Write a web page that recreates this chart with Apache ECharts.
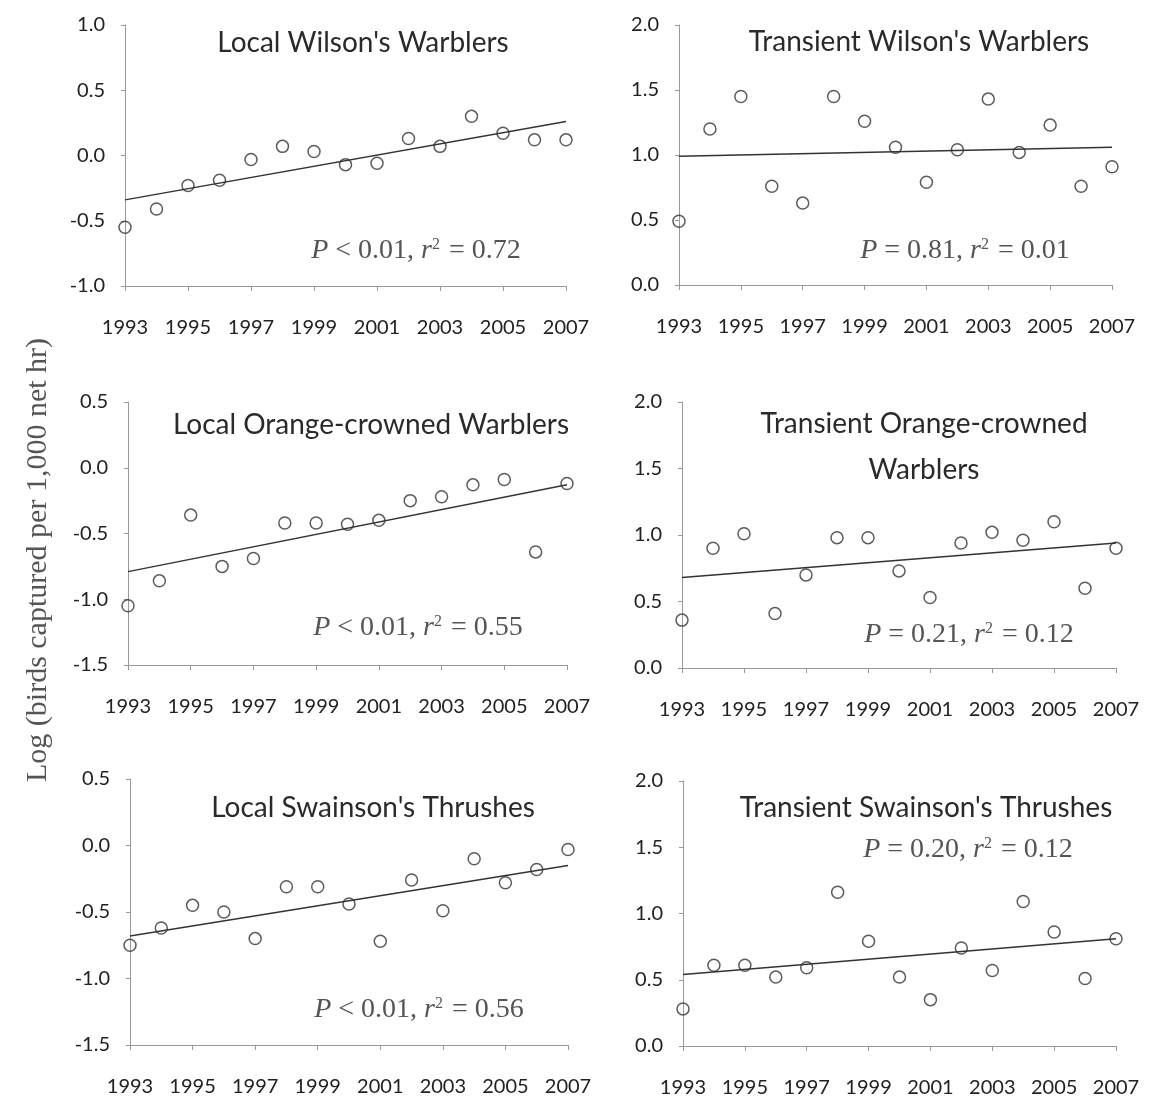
<!DOCTYPE html>
<html>
<head>
<meta charset="utf-8">
<script src="https://cdn.jsdelivr.net/npm/echarts@6/dist/echarts.min.js"></script>
<style>
  html, body { margin: 0; padding: 0; background: #fff; }
  #main { width: 1156px; height: 1100px; }
</style>
</head>
<body>
<div id="main"></div>
<script>
// years on the x axis
var years = [1993, 1994, 1995, 1996, 1997, 1998, 1999, 2000, 2001, 2002, 2003, 2004, 2005, 2006, 2007];

// log captures per panel
var localWilson = [-0.55, -0.41, -0.23, -0.19, -0.03, 0.07, 0.03, -0.07, -0.06, 0.13, 0.07, 0.30, 0.17, 0.12, 0.12];
var transWilson = [0.49, 1.20, 1.45, 0.76, 0.63, 1.45, 1.26, 1.06, 0.79, 1.04, 1.43, 1.02, 1.23, 0.76, 0.91];
var localOrange = [-1.05, -0.86, -0.36, -0.75, -0.69, -0.42, -0.42, -0.43, -0.40, -0.25, -0.22, -0.13, -0.09, -0.64, -0.12];
var transOrange = [0.36, 0.90, 1.01, 0.41, 0.70, 0.98, 0.98, 0.73, 0.53, 0.94, 1.02, 0.96, 1.10, 0.60, 0.90];
var localSwainson = [-0.75, -0.62, -0.45, -0.50, -0.70, -0.31, -0.31, -0.44, -0.72, -0.26, -0.49, -0.10, -0.28, -0.18, -0.03];
var transSwainson = [0.28, 0.61, 0.61, 0.52, 0.59, 1.16, 0.79, 0.52, 0.35, 0.74, 0.57, 1.09, 0.86, 0.51, 0.81];

// regression line ends (1993, 2007)
var trendLocalWilson = [-0.34, 0.26];
var trendTransWilson = [0.99, 1.06];
var trendLocalOrange = [-0.79, -0.13];
var trendTransOrange = [0.68, 0.94];
var trendLocalSwainson = [-0.68, -0.15];
var trendTransSwainson = [0.54, 0.81];

var titles = ["Local Wilson's Warblers", "Transient Wilson's Warblers",
  "Local Orange-crowned Warblers", "Transient Orange-crowned\nWarblers",
  "Local Swainson's Thrushes", "Transient Swainson's Thrushes"];
var stats = ["{i|P} < 0.01, {i|r}{s|2} = 0.72", "{i|P} = 0.81, {i|r}{s|2} = 0.01",
  "{i|P} < 0.01, {i|r}{s|2} = 0.55", "{i|P} = 0.21, {i|r}{s|2} = 0.12",
  "{i|P} < 0.01, {i|r}{s|2} = 0.56", "{i|P} = 0.20, {i|r}{s|2} = 0.12"];
var yRanges = [[-1, 1], [0, 2], [-1.5, 0.5], [0, 2], [-1.5, 0.5], [0, 2]];
var yLabel = 'Log (birds captured per 1,000 net hr)';

var values = [localWilson, transWilson, localOrange, transOrange, localSwainson, transSwainson];
var trends = [trendLocalWilson, trendTransWilson, trendLocalOrange, trendTransOrange, trendLocalSwainson, trendTransSwainson];

// panel layout [left, top, width, height]
var grids = [
  [125, 25, 441, 261], [679, 25, 433, 260],
  [128, 402, 439, 263], [682, 402, 434, 266],
  [130, 779, 438, 266], [683, 781, 433, 265]
];
var titlePos = [[363, 43], [919, 42], [371, 425], [924, 447], [373, 808], [926, 808]];
var statPos = [[416, 251], [965, 251], [418, 628], [969, 635], [419, 1010], [968, 850]];

var myChart = echarts.init(document.getElementById('main'));

var option = {
    animation: false,
    backgroundColor: '#fff',
    grid: [], xAxis: [], yAxis: [], series: [], graphic: []
};

for (var i = 0; i < 6; i++) {
    var g = grids[i];
    option.grid.push({ left: g[0], top: g[1], width: g[2], height: g[3] });
    option.xAxis.push({
        gridIndex: i, type: 'value', min: 1993, max: 2007, interval: 2,
        axisLine: { onZero: false, lineStyle: { color: '#999', width: 1 } },
        axisTick: { length: 5, lineStyle: { color: '#999' } },
        axisLabel: { margin: 32, color: '#222', fontFamily: 'Lato', fontSize: 20,
            formatter: function (v) { return String(v); } },
        splitLine: { show: false }
    });
    option.yAxis.push({
        gridIndex: i, type: 'value', min: yRanges[i][0], max: yRanges[i][1], interval: 0.5,
        axisLine: { show: true, onZero: false, lineStyle: { color: '#999', width: 1 } },
        axisTick: { show: true, length: 4, lineStyle: { color: '#999' } },
        axisLabel: { margin: 20, color: '#222', fontFamily: 'Lato', fontSize: 20,
            formatter: function (v) { return v.toFixed(1); } },
        splitLine: { show: false }
    });
    option.series.push({
        type: 'line', xAxisIndex: i, yAxisIndex: i, showSymbol: false, silent: true,
        lineStyle: { color: '#333', width: 1.5 },
        data: [[years[0], trends[i][0]], [years[years.length - 1], trends[i][1]]]
    });
    option.series.push({
        type: 'scatter', xAxisIndex: i, yAxisIndex: i, symbol: 'circle', symbolSize: 12,
        itemStyle: { color: 'transparent', borderColor: '#333', borderWidth: 1.5 },
        data: years.map(function (y, k) { return [y, values[i][k]]; })
    });
    option.graphic.push({
        type: 'text', x: titlePos[i][0], y: titlePos[i][1],
        style: { text: titles[i], fill: '#2a2a2a', font: '28px Lato', align: 'center',
            verticalAlign: 'middle', lineHeight: 46 }
    });
    option.graphic.push({
        type: 'text', x: statPos[i][0], y: statPos[i][1],
        style: { text: stats[i], fill: '#555', font: '28px "Liberation Serif"', align: 'center',
            verticalAlign: 'middle',
            rich: {
                i: { fontStyle: 'italic', fontFamily: 'Liberation Serif', fontSize: 28, fill: '#555' },
                s: { fontFamily: 'Liberation Serif', fontSize: 16, fill: '#555', verticalAlign: 'top', padding: [0, 2, 12, 0] }
            } }
    });
}

option.graphic.push({
    type: 'text', x: 38, y: 560, rotation: Math.PI / 2,
    style: { text: yLabel, fill: '#555', font: '30px "Liberation Serif"', align: 'center', verticalAlign: 'middle' }
});

myChart.setOption(option);
</script>
</body>
</html>
